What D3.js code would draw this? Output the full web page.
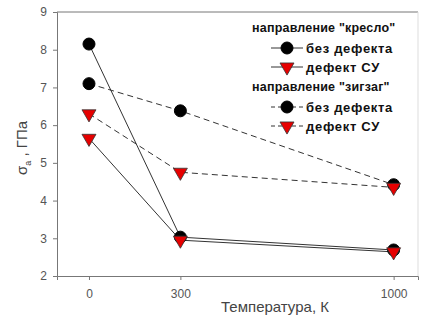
<!DOCTYPE html>
<html>
<head>
<meta charset="utf-8">
<script src="https://cdn.jsdelivr.net/npm/d3@7"></script>
<style>
  html, body { margin: 0; padding: 0; background: #fff; }
  svg { display: block; font-family: "Liberation Sans", Arial, sans-serif; }
</style>
</head>
<body>
<svg id="chart" width="423" height="320"></svg>
<script>
// Temperatures (K) and strength values (GPa)
const temperatures = [0, 300, 1000];
const armchairPristine = [8.15, 3.03, 2.69];
const armchairSW = [5.65, 2.95, 2.64];
const zigzagPristine = [7.10, 6.38, 4.42];
const zigzagSW = [6.30, 4.75, 4.35];

const xTicks = [0, 300, 1000];
const yTicks = [2, 3, 4, 5, 6, 7, 8, 9];

const series = [
  { name: "armchairPristine", values: armchairPristine, dash: null, symbol: "circle" },
  { name: "armchairSW", values: armchairSW, dash: null, symbol: "triangle" },
  { name: "zigzagPristine", values: zigzagPristine, dash: "6,4", symbol: "circle" },
  { name: "zigzagSW", values: zigzagSW, dash: "6,4", symbol: "triangle" }
];

const svg = d3.select("#chart");
const plotL = 57, plotR = 418, plotT = 12, plotB = 276;

const x = d3.scaleLinear().domain([-105, 1080]).range([plotL, plotR]);
const y = d3.scaleLinear().domain([2, 9]).range([plotB, plotT]);

// frame: top and right borders
svg.append("line").attr("x1", plotL).attr("x2", plotR).attr("y1", plotT).attr("y2", plotT)
  .attr("stroke", "#777").attr("stroke-width", 1);
svg.append("line").attr("x1", plotR).attr("x2", plotR).attr("y1", plotT).attr("y2", plotB)
  .attr("stroke", "#ddd").attr("stroke-width", 1);

// axes
const yAxis = svg.append("g").attr("transform", `translate(${plotL},0)`)
  .call(d3.axisLeft(y).tickValues(yTicks).tickSize(4).tickPadding(6).tickFormat(d3.format("d")));
const xAxis = svg.append("g").attr("transform", `translate(0,${plotB})`)
  .call(d3.axisBottom(x).tickValues(xTicks).tickSize(4).tickPadding(9).tickFormat(d3.format("d")));

[xAxis, yAxis].forEach(g => {
  g.select(".domain").attr("stroke", "#777");
  g.selectAll(".tick line").attr("stroke", "#777");
  g.selectAll(".tick text").attr("fill", "#555").style("font-size", "12px")
    .style("font-family", "Liberation Sans, Arial, sans-serif");
});

// axis titles
svg.append("text").attr("x", 275).attr("y", 312).attr("text-anchor", "middle")
  .attr("fill", "#444").style("font-size", "15px").text("Температура, К");

const yt = svg.append("text").attr("transform", "translate(27,148) rotate(-90)")
  .attr("text-anchor", "middle").attr("fill", "#444").style("font-size", "15px");
yt.append("tspan").text("σ");
yt.append("tspan").attr("dy", 4).style("font-size", "9px").text("a");
yt.append("tspan").attr("dy", -4).text(" , ГПа");

const lineGen = d3.line().x((d, i) => x(temperatures[i])).y(d => y(d));

const triPath = d3.symbol().type(d3.symbolTriangle).size(85)();

function drawMarker(g, symbol, cx, cy) {
  if (symbol === "circle") {
    g.append("circle").attr("cx", cx).attr("cy", cy).attr("r", 6)
      .attr("fill", "#000").attr("stroke", "#000");
  } else {
    g.append("path").attr("d", triPath)
      .attr("transform", `translate(${cx},${cy}) rotate(180)`)
      .attr("fill", "#e60000").attr("stroke", "#333").attr("stroke-width", 0.8);
  }
}

// lines
series.forEach(s => {
  svg.append("path").datum(s.values).attr("d", lineGen)
    .attr("fill", "none").attr("stroke", "#333").attr("stroke-width", 1)
    .attr("stroke-dasharray", s.dash);
});
// markers
series.forEach(s => {
  const g = svg.append("g");
  s.values.forEach((v, i) => drawMarker(g, s.symbol, x(temperatures[i]), y(v)));
});

// legend
const legend = svg.append("g");
const headings = [
  { text: "направление \"кресло\"", y: 28 },
  { text: "направление \"зигзаг\"", y: 87 }
];
headings.forEach(h => {
  legend.append("text").attr("x", 252).attr("y", h.y + 4).attr("fill", "#111")
    .style("font-size", "12.5px").style("font-weight", "bold")
    .style("letter-spacing", "0.2px").text(h.text);
});
const items = [
  { s: series[0], label: "без дефекта", y: 48 },
  { s: series[1], label: "дефект СУ", y: 67 },
  { s: series[2], label: "без дефекта", y: 107 },
  { s: series[3], label: "дефект СУ", y: 126 }
];
items.forEach(it => {
  legend.append("line").attr("x1", 271).attr("x2", 303).attr("y1", it.y).attr("y2", it.y)
    .attr("stroke", "#333").attr("stroke-width", 1).attr("stroke-dasharray", it.s.dash ? "4,3" : null);
  drawMarker(legend, it.s.symbol, 287, it.y);
  legend.append("text").attr("x", 306).attr("y", it.y + 4.5).attr("fill", "#111")
    .style("font-size", "13px").style("font-weight", "bold")
    .style("letter-spacing", "0.7px").text(it.label);
});
</script>
</body>
</html>
